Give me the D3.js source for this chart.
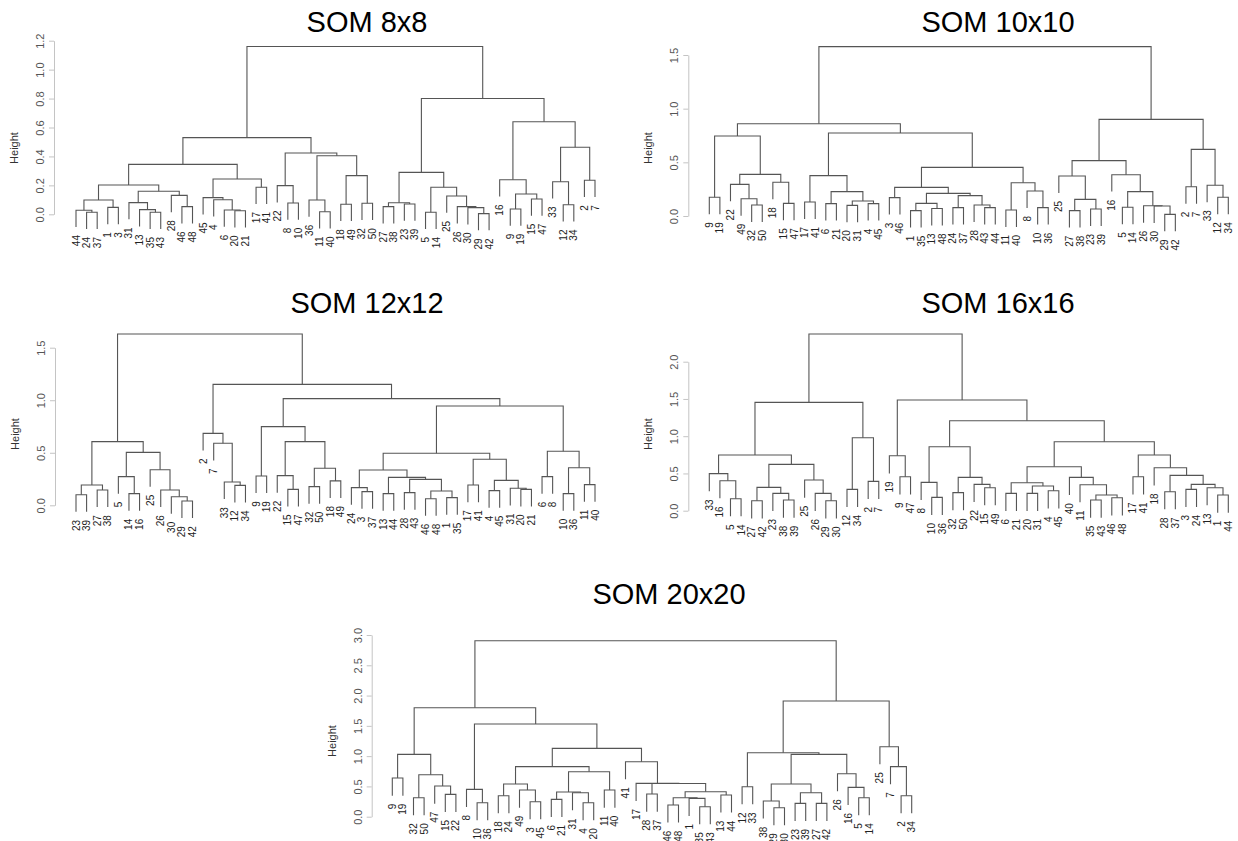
<!DOCTYPE html>
<html>
<head>
<meta charset="utf-8">
<script src="https://cdn.jsdelivr.net/npm/d3@7"></script>
<style>
	body { margin: 0; background: #fff; }
	text { font-family: "Liberation Sans", Arial, Helvetica, sans-serif; }
</style>
</head>
<body>
<svg id="chart" width="1238" height="841"></svg>
<script>
// merge trees: [height, left, right], a bare number is a leaf label
var som8 = [1.16,
	[0.53,
		[0.345,
			[0.203,
				[0.099, [0.028, 44, [0.014, 24, 37]], [0.048, 1, 3]],
				[0.159, [0.081, 31, [0.032, 13, [0.014, 35, 43]]], [0.131, 28, [0.053, 46, 48]]]],
			[0.244,
				[0.115, 45, [0.101, 4, [0.030, 6, [0.025, 20, 21]]]],
				[0.187, 17, 41]]],
		[0.424,
			[0.198, 22, [0.078, 8, 10]],
			[0.405, [0.099, 36, [0.018, 11, 40]], [0.267, [0.069, 18, 49], [0.076, 32, 50]]]]],
	[0.80,
		[0.29,
			[0.080, [0.053, 27, 38], [0.071, 23, 39]],
			[0.187, [0.014, 5, 14], [0.126, 25, [0.053, 26, [0.046, 30, [0.005, 29, 42]]]]]],
		[0.64,
			[0.239, 16, [0.14, [0.037, 9, 19], [0.106, 15, 47]]],
			[0.463, [0.225, 33, [0.066, 12, 34]], [0.235, 2, 7]]]]];

var som10 = [1.578,
	[0.86,
		[0.745, [0.174, 9, 19], [0.388, [0.295, 22, [0.161, 49, [0.102, 32, 50]]], [0.314, 18, [0.118, 15, 47]]]],
		[0.773,
			[0.376, [0.13, 17, 41], [0.227, [0.115, 6, 21], [0.14, [0.099, 20, 31], [0.115, 4, 45]]]],
			[0.453,
				[0.267, [0.171, 3, 46], [0.211, [0.118, [0.05, 1, 35], [0.07, 13, 48]], [0.19, [0.078, 24, 37], [0.102, 28, [0.078, 43, 44]]]]],
				[0.31, [0.056, 11, 40], [0.233, 8, [0.078, 10, 36]]]]]],
	[0.90,
		[0.516, [0.373, 25, [0.155, [0.05, 27, 38], [0.065, 23, 39]]], [0.385, 16, [0.227, [0.081, 5, 14], [0.096, 26, [0.093, 30, [0.015, 29, 42]]]]]],
		[0.621, [0.273, 2, 7], [0.286, 33, [0.174, 12, 34]]]]];

var som12 = [1.63,
	[0.606, [0.193, [0.101, 23, 39], [0.146, 27, 38]], [0.504, [0.273, 5, [0.111, 14, 16]], [0.339, 25, [0.146, 26, [0.082, 30, [0.041, 29, 42]]]]]],
	[1.151,
		[0.685, 2, [0.59, 7, [0.222, 33, [0.19, 12, 34]]]],
		[1.015,
			[0.749, [0.279, 9, 19], [0.606, [0.282, 22, [0.152, 15, 47]], [0.352, [0.178, 32, 50], [0.232, 18, 49]]]],
			[0.945,
				[0.495,
					[0.336, [0.168, 24, [0.13, 3, 37]], [0.266, [0.111, 13, 44], [0.247, [0.121, 28, 43], [0.136, [0.063, 46, 48], [0.073, 1, 35]]]]],
					[0.438, [0.193, 17, 41], [0.237, [0.14, 4, 45], [0.162, 31, [0.152, 20, 21]]]]],
				[0.514, [0.273, 6, 8], [0.358, [0.111, 10, 36], [0.197, 11, 40]]]]]]];

var som16 = [2.371,
	[1.454,
		[0.747, [0.497, 33, [0.403, 16, [0.161, 5, 14]]], [0.622, [0.313, [0.134, 27, 42], [0.233, 23, [0.143, 38, 39]]], [0.412, 25, [0.233, 26, [0.134, 29, 30]]]]],
		[0.98, [0.286, 12, 34], [0.394, 2, 7]]],
	[1.485,
		[0.738, 19, [0.456, 9, 47]],
		[1.208,
			[0.859, [0.38, 8, [0.179, 10, 36]], [0.447, [0.242, 32, 50], [0.354, 22, [0.309, 15, 49]]]],
			[0.926,
				[0.59, [0.376, [0.233, 6, 21], [0.331, [0.233, 20, 31], [0.268, 4, 45]]], [0.447, 40, [0.349, 11, [0.21, [0.143, 35, 43], [0.174, 46, 48]]]]],
				[0.747, [0.456, 17, 41], [0.577, 18, [0.474, [0.255, 28, 37], [0.354, [0.286, 3, 24], [0.309, 13, [0.21, 1, 44]]]]]]]]]];

var som20 = [2.906,
	[1.8,
		[1.029, [0.638, 9, 19], [0.693, [0.314, 32, 50], [0.506, 47, [0.369, 15, 22]]]],
		[1.53,
			[0.451, 8, [0.231, 10, 36]],
			[1.128,
				[0.826, [0.539, [0.347, 18, 24], [0.44, 49, [0.248, 3, 45]]], [0.743, [0.407, [0.286, 6, 21], [0.396, 31, [0.231, 4, 20]]], [0.44, 11, 40]]],
				[0.908, 41, [0.55, 17, [0.548, [0.374, 28, 37], [0.413, [0.314, [0.193, 46, 48], [0.303, 1, [0.165, 35, 43]]], [0.358, 13, 44]]]]]]]],
	[1.91,
		[1.057, [0.495, 12, 33], [1.029, [0.539, [0.259, 38, [0.149, 29, 30]], [0.396, [0.22, 23, 39], [0.22, 27, 42]]], [0.71, 26, [0.484, 16, [0.314, 5, 14]]]]],
		[1.156, 25, [0.826, 7, [0.347, 2, 34]]]]];

var titles = ["SOM 8x8", "SOM 10x10", "SOM 12x12", "SOM 16x16", "SOM 20x20"];
var ticks8 = [0, 0.2, 0.4, 0.6, 0.8, 1.0, 1.2];
var ticks10 = [0, 0.5, 1.0, 1.5];
var ticks12 = [0, 0.5, 1.0, 1.5];
var ticks16 = [0, 0.5, 1.0, 1.5, 2.0];
var ticks20 = [0, 0.5, 1.0, 1.5, 2.0, 2.5, 3.0];

// panel frames (pixels)
var panels = [
	{tree: som8, title: titles[0], ticks: ticks8, x0: 76, x1: 595, axisX: 54, y0: 214.3, yTop: 40.7, titleX: 367, titleY: 31.7, labY: 148},
	{tree: som10, title: titles[1], ticks: ticks10, x0: 709.3, x1: 1228.3, axisX: 688.3, y0: 216, yTop: 55, titleX: 998, titleY: 31.7, labY: 148},
	{tree: som12, title: titles[2], ticks: ticks12, x0: 76, x1: 595, axisX: 55, y0: 505.3, yTop: 347.7, titleX: 367, titleY: 313, labY: 434},
	{tree: som16, title: titles[3], ticks: ticks16, x0: 709.3, x1: 1228.3, axisX: 688.3, y0: 510.7, yTop: 361.7, titleX: 998, titleY: 313, labY: 434},
	{tree: som20, title: titles[4], ticks: ticks20, x0: 392.3, x1: 911.7, axisX: 371.7, y0: 816.7, yTop: 635, titleX: 669, titleY: 604.3, labY: 741}
];

var svg = d3.select('#chart');

function toNode(d) {
	if (Array.isArray(d)) {
		return {h: d[0], children: [toNode(d[1]), toNode(d[2])]};
	}
	return {label: String(d)};
}

function drawPanel(p) {
	var g = svg.append('g');
	var root = d3.hierarchy(toNode(p.tree));
	var leaves = root.leaves();

	var x = d3.scaleLinear().domain([0, leaves.length - 1]).range([p.x0, p.x1]);
	var y = d3.scaleLinear().domain([0, p.ticks[p.ticks.length - 1]]).range([p.y0, p.yTop]);
	var hang = 0.1 * root.data.h;

	leaves.forEach(function(l, i) { l.px = x(i); });
	root.eachAfter(function(n) {
		if (n.children) n.px = (n.children[0].px + n.children[1].px) / 2;
	});

	function endY(n) {
		return n.children ? y(n.data.h) : y(n.parent.data.h - hang);
	}

	var inner = root.descendants().filter(function(n) { return n.children; });
	g.selectAll('path.link')
		.data(inner)
		.enter().append('path')
		.attr('class', 'link')
		.attr('fill', 'none')
		.attr('stroke', '#555')
		.attr('stroke-width', 1.1)
		.attr('d', function(n) {
			var a = n.children[0], b = n.children[1];
			return 'M' + a.px + ',' + endY(a) + 'V' + y(n.data.h) + 'H' + b.px + 'V' + endY(b);
		});

	g.selectAll('text.leaf')
		.data(leaves)
		.enter().append('text')
		.attr('class', 'leaf')
		.attr('transform', function(l) { return 'translate(' + l.px + ',' + (endY(l) + 8) + ') rotate(-90)'; })
		.attr('dy', '0.35em')
		.attr('text-anchor', 'end')
		.attr('font-size', 10)
		.attr('fill', '#222')
		.text(function(l) { return l.data.label; });

	var axis = d3.axisLeft(y)
		.tickValues(p.ticks)
		.tickSize(5)
		.tickSizeOuter(0)
		.tickFormat(d3.format('.1f'));

	var ax = g.append('g')
		.attr('transform', 'translate(' + p.axisX + ',0)')
		.call(axis);
	ax.select('.domain').attr('stroke', '#c4c4c4');
	ax.selectAll('.tick line').attr('stroke', '#c4c4c4');
	ax.selectAll('.tick text')
		.attr('x', null).attr('dy', null)
		.attr('transform', 'translate(-10,0) rotate(-90)')
		.attr('text-anchor', 'middle')
		.attr('font-family', null)
		.attr('font-size', 11)
		.attr('fill', '#555');

	g.append('text')
		.attr('transform', 'translate(' + (p.axisX - 36) + ',' + p.labY + ') rotate(-90)')
		.attr('text-anchor', 'middle')
		.attr('font-size', 11)
		.attr('fill', '#333')
		.text('Height');

	g.append('text')
		.attr('x', p.titleX)
		.attr('y', p.titleY)
		.attr('text-anchor', 'middle')
		.attr('font-size', 29)
		.attr('fill', '#000')
		.text(p.title);
}

panels.forEach(drawPanel);
</script>
</body>
</html>
